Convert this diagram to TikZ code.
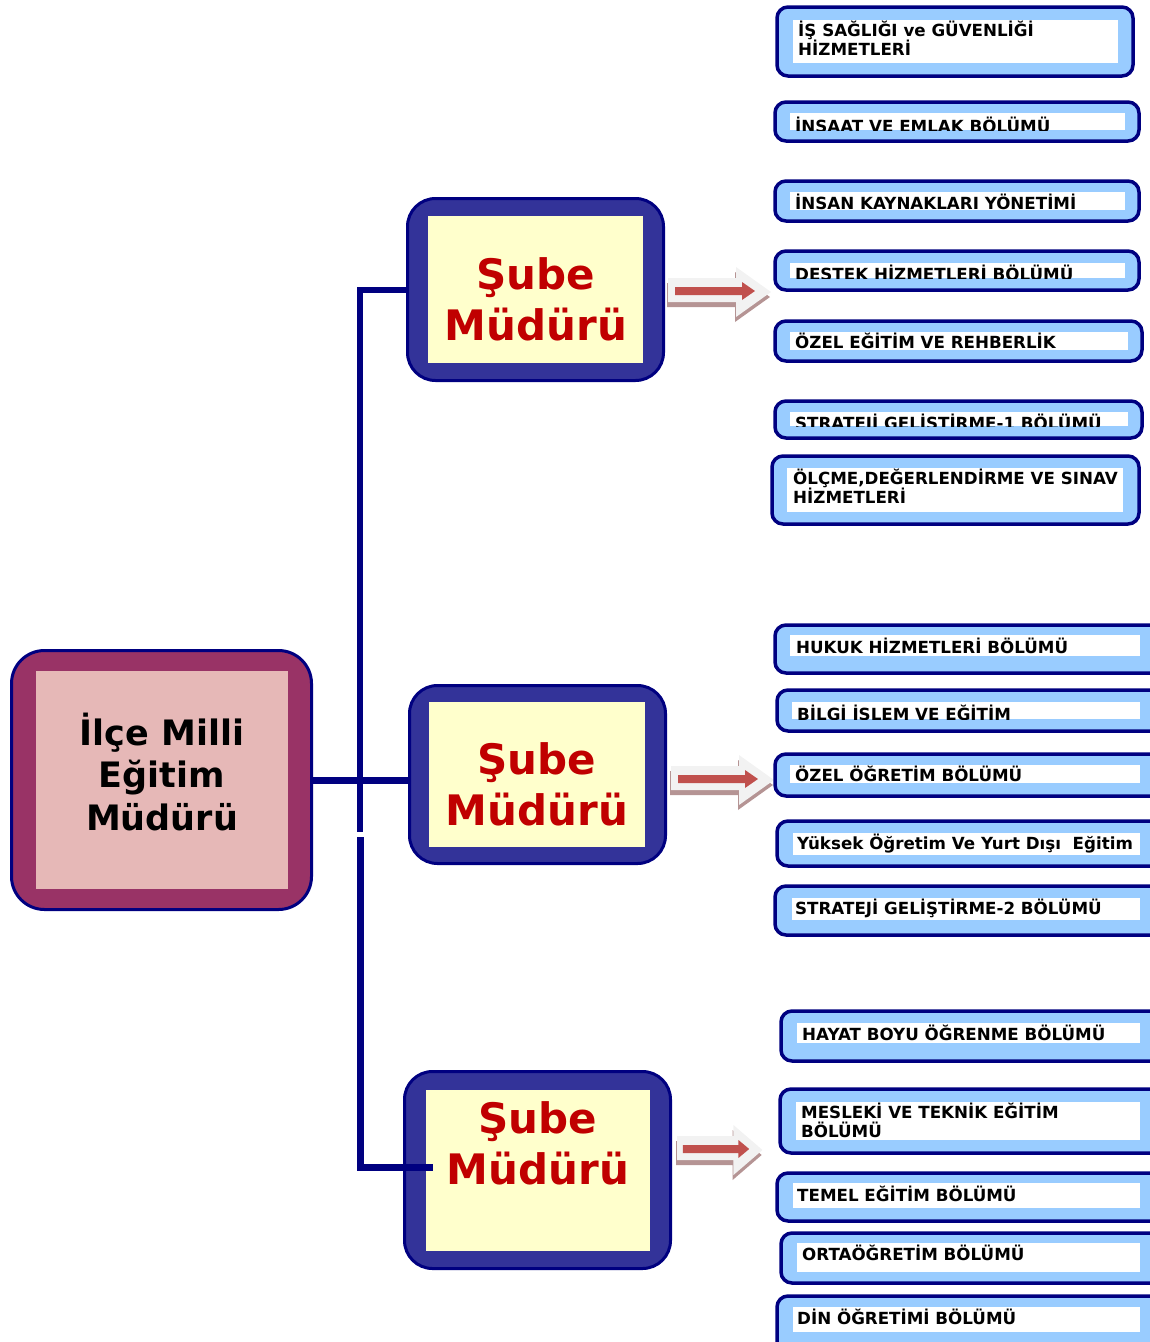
\documentclass[tikz,border=0pt]{standalone}
\usepackage{fontspec}
\setmainfont{DejaVu Sans}
\usetikzlibrary{calc}
\definecolor{navy}{HTML}{000080}
\definecolor{plum}{HTML}{993366}
\definecolor{rose}{HTML}{E6B8B7}
\definecolor{subeblue}{HTML}{333399}
\definecolor{cream}{HTML}{FFFFCC}
\definecolor{subered}{HTML}{C00000}
\definecolor{unitblue}{HTML}{99CCFF}
\definecolor{arrgray}{HTML}{F2F2F2}
\definecolor{arrshade}{HTML}{B59494}
\definecolor{arrred}{HTML}{C0504D}
\tikzset{
  conn/.style={navy, line width=7pt},
  headbox/.style={draw=navy, line width=3pt, fill=plum, rounded corners=33pt, minimum width=300pt, minimum height=259pt},
  headinner/.style={fill=rose, minimum width=252pt, minimum height=218pt},
  headtext/.style={align=center, inner sep=0pt, font=\fontsize{35}{42.5}\selectfont\bfseries},
  subebox/.style={draw=navy, line width=3pt, fill=subeblue, rounded corners=28pt},
  subeinner/.style={fill=cream},
  subetext/.style={align=center, inner sep=0pt, text=subered, font=\fontsize{42}{51}\selectfont\bfseries},
  unitframe/.style={draw=navy, line width=3.5pt, fill=unitblue, rounded corners=11pt},
  unittext/.style={anchor=base west, inner sep=0pt, align=left, font=\fontsize{16.7}{19}\selectfont\bfseries}
}
% list box: name, outer corners, inner corners, base of last line, text
\newcommand{\unitbox}[7]{%
  \draw[unitframe] #2 rectangle #3;
  \fill[white] #4 rectangle #5;
  \begin{scope}
    \clip #4 rectangle #5;
    \node[unittext] (#1) at #6 {#7};
  \end{scope}}
% block arrow between a Sube box and its list
\newcommand{\twinarrow}{%
  \fill[arrshade] (-1,-9) -- (67,-9) -- (67,-20) -- (102,5) -- (67,30) -- (67,15) -- (-1,15) -- cycle;
  \fill[arrgray] (0,-14) -- (68,-14) -- (68,-25) -- (103,0) -- (68,25) -- (68,10) -- (0,10) -- cycle;
  \fill[arrred] (7,-5) -- (74,-5) -- (74,-10) -- (87,-1) -- (74,8) -- (74,3) -- (7,3) -- cycle;}

\begin{document}
\begin{tikzpicture}[x=1pt, y=-1pt]
    \useasboundingbox (0,0) rectangle (1150,1342);
    \clip (0,0) rectangle (1150,1342);
    % Ilce Milli Egitim Muduru
    \node[headbox] (mudur) at (161.5,780) {};
    \node[headinner] (mudurin) at (162,780) {};
    \node[headtext] (mudurtxt) at (162,772) {İlçe Milli\\Eğitim\\Müdürü};
    % Sube Muduru boxes
    \node[subebox, minimum width=256pt, minimum height=182pt] (s1) at (535.5,289.5) {};
    \node[subeinner, minimum width=215pt, minimum height=147pt] (s1in) at (535.5,289.5) {};
    \node[subetext] (s1txt) at (536,299) {Şube\\Müdürü};
    \node[subebox, minimum width=256pt, minimum height=178pt] (s2) at (537.5,774.5) {};
    \node[subeinner, minimum width=216pt, minimum height=145pt] (s2in) at (537,774.5) {};
    \node[subetext] (s2txt) at (537,784) {Şube\\Müdürü};
    \node[subebox, minimum width=266pt, minimum height=197pt] (s3) at (537.5,1170) {};
    \node[subeinner, minimum width=224pt, minimum height=161pt] (s3in) at (538,1170.5) {};
    \node[subetext] (s3txt) at (538,1143) {Şube\\Müdürü};
    % connectors
    \coordinate (gap1) at (360,832);
    \coordinate (gap2) at (360,837);
    \coordinate (foot) at (433,1167);
    \draw[conn, line width=6pt] (s1.west) -| (gap1);
    \draw[conn] (gap2) |- (foot);
    \draw[conn] (mudur.east) -- (mudur.east -| s2.west);
    % arrows
    \begin{scope}[shift={($(s1.east)+(3,2.5)$)}]\twinarrow\end{scope}
    \begin{scope}[shift={($(s2.east)+(4,5.5)$)}]\twinarrow\end{scope}
    \begin{scope}[shift={($(s3.east)+(5,-20)$)}, xscale=.83]\twinarrow\end{scope}
    % first group
    \unitbox{isg}{(777,7)}{(1133,76)}{(793,20)}{(1118,63)}{(798,55)}{İŞ SAĞLIĞI ve GÜVENLİĞİ\\HİZMETLERİ}
    \unitbox{insaat}{(775,102)}{(1139,141)}{(790,113)}{(1125,130)}{(795,132)}{İNSAAT VE EMLAK BÖLÜMÜ}
    \unitbox{ik}{(775,181)}{(1139,221)}{(790,192)}{(1125,210)}{(795,209)}{İNSAN KAYNAKLARI YÖNETİMİ}
    \unitbox{destek}{(775,251)}{(1139,290)}{(790,263)}{(1125,278)}{(795,280)}{DESTEK HİZMETLERİ BÖLÜMÜ}
    \unitbox{ozelegt}{(775,321)}{(1142,361)}{(790,332)}{(1128,350)}{(795,348)}{ÖZEL EĞİTİM VE REHBERLİK}
    \unitbox{strat1}{(775,401)}{(1142,438)}{(790,412)}{(1128,426)}{(795,429)}{STRATEJİ GELİŞTİRME-1 BÖLÜMÜ}
    \unitbox{olcme}{(772,456)}{(1139,524)}{(787,468)}{(1123,512)}{(793,503)}{ÖLÇME,DEĞERLENDİRME VE SINAV\\HİZMETLERİ}
    % second group
    \unitbox{hukuk}{(775,625)}{(1162,673)}{(790,635)}{(1140,656)}{(796,653)}{HUKUK HİZMETLERİ BÖLÜMÜ}
    \unitbox{bilgi}{(777,690)}{(1162,731)}{(792,702)}{(1140,719)}{(797,720)}{BİLGİ İSLEM VE EĞİTİM}
    \unitbox{ozelogr}{(775,754)}{(1162,796)}{(790,765)}{(1140,783)}{(795,781)}{ÖZEL ÖĞRETİM BÖLÜMÜ}
    \unitbox{yuksek}{(777,821)}{(1162,866)}{(793,833)}{(1140,855)}{(797,849)}{Yüksek Öğretim Ve Yurt Dışı\ \ Eğitim}
    \unitbox{strat2}{(775,886)}{(1162,935)}{(792,898)}{(1140,920)}{(795,914)}{STRATEJİ GELİŞTİRME-2 BÖLÜMÜ}
    % third group
    \unitbox{hayat}{(781,1011)}{(1162,1061)}{(797,1023)}{(1140,1043)}{(802,1040)}{HAYAT BOYU ÖĞRENME BÖLÜMÜ}
    \unitbox{mesleki}{(780,1089)}{(1162,1153)}{(796,1102)}{(1140,1140)}{(801,1137)}{MESLEKİ VE TEKNİK EĞİTİM\\BÖLÜMÜ}
    \unitbox{temel}{(777,1173)}{(1162,1221)}{(793,1183)}{(1140,1208)}{(797,1201)}{TEMEL EĞİTİM BÖLÜMÜ}
    \unitbox{orta}{(781,1233)}{(1162,1283)}{(797,1243)}{(1140,1272)}{(802,1260)}{ORTAÖĞRETİM BÖLÜMÜ}
    \unitbox{din}{(777,1296)}{(1162,1360)}{(793,1307)}{(1140,1332)}{(797,1324)}{DİN ÖĞRETİMİ BÖLÜMÜ}
\end{tikzpicture}
\end{document}
